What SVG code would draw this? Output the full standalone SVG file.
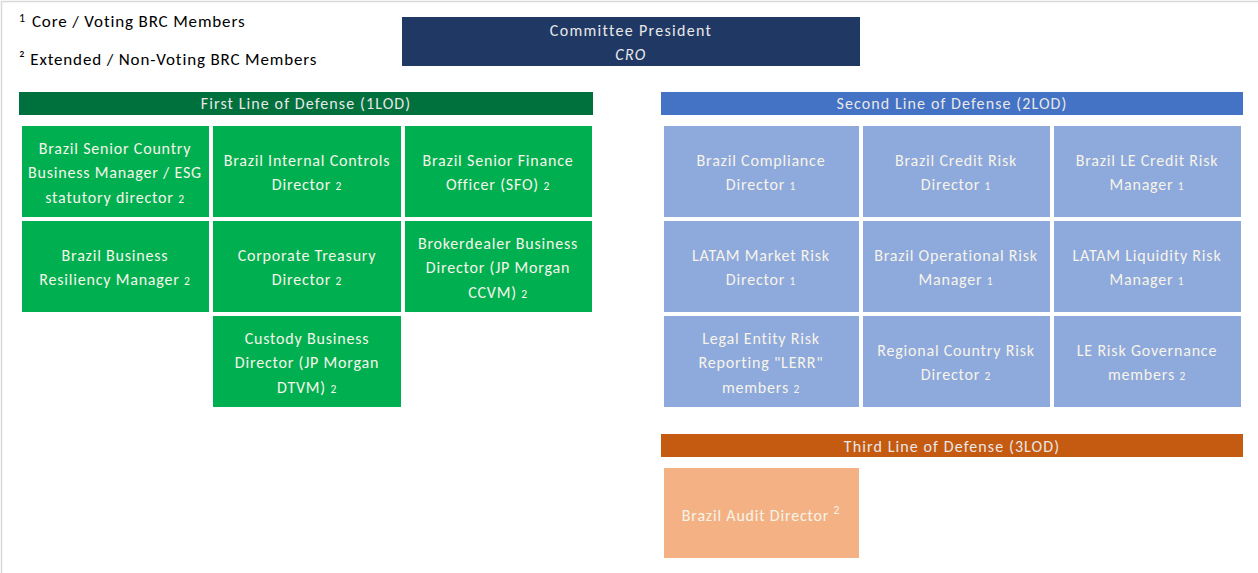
<svg xmlns="http://www.w3.org/2000/svg" width="1258" height="573" viewBox="0 0 1258 573">
<style>
text{font-family:Carlito,Lato,"Liberation Sans",sans-serif}
.lg{font-size:17px;fill:#000;letter-spacing:0.85px}
.hd{font-size:16px;fill:#E8E8E8;text-anchor:middle;letter-spacing:1.1px}
.pr{letter-spacing:1.3px}
.ct{font-size:16px;fill:#F7F4EA;text-anchor:middle;letter-spacing:0.8px}
.sb{font-size:11.5px}
.g{fill:#00B050}
.b{fill:#8EA9DB}
.o{fill:#F4B183}
</style>
<rect width="1258" height="573" fill="#fff"/>
<path d="M1.5 573V1.5H1258" fill="none" stroke="#D9D9D9" stroke-width="1.5"/>
<g id="legend">
<text class="lg" x="19" y="27"><tspan font-size="12" dy="-5">1</tspan><tspan dy="5" dx="6">Core / Voting BRC Members</tspan></text>
<text class="lg" x="19" y="65">² Extended / Non-Voting BRC Members</text>
</g>
<g id="president">
<rect x="402" y="17" width="458" height="49" fill="#203864"/>
<text class="hd pr" x="631" y="36">Committee President</text>
<text class="hd pr" x="631" y="60" font-style="italic">CRO</text>
</g>
<g id="lod1">
<rect x="19" y="92" width="574" height="23" fill="#00703C"/>
<text class="hd" x="306" y="109">First Line of Defense (1LOD)</text>
</g>
<g id="lod2">
<rect x="661" y="92" width="582" height="23" fill="#4472C4"/>
<text class="hd" x="952" y="109">Second Line of Defense (2LOD)</text>
</g>
<g id="lod3">
<rect x="661" y="434" width="582" height="23" fill="#C55A11"/>
<text class="hd" x="952" y="452">Third Line of Defense (3LOD)</text>
</g>
<g id="g1"><rect class="g" x="22" y="126" width="187" height="91"/>
<text class="ct" x="115" y="154">Brazil Senior Country</text><text class="ct" x="115" y="178">Business Manager / ESG</text><text class="ct" x="115" y="203">statutory director  <tspan class="sb">2</tspan></text></g>
<g id="g2"><rect class="g" x="213" y="126" width="188" height="91"/>
<text class="ct" x="307" y="166">Brazil Internal Controls</text><text class="ct" x="307" y="190">Director <tspan class="sb">2</tspan></text></g>
<g id="g3"><rect class="g" x="405" y="126" width="187" height="91"/>
<text class="ct" x="498" y="166">Brazil Senior Finance</text><text class="ct" x="498" y="190">Officer (SFO) <tspan class="sb">2</tspan></text></g>
<g id="g4"><rect class="g" x="22" y="221" width="187" height="91"/>
<text class="ct" x="115" y="261">Brazil Business</text><text class="ct" x="115" y="285">Resiliency Manager <tspan class="sb">2</tspan></text></g>
<g id="g5"><rect class="g" x="213" y="221" width="188" height="91"/>
<text class="ct" x="307" y="261">Corporate Treasury</text><text class="ct" x="307" y="285">Director <tspan class="sb">2</tspan></text></g>
<g id="g6"><rect class="g" x="405" y="221" width="187" height="91"/>
<text class="ct" x="498" y="249">Brokerdealer Business</text><text class="ct" x="498" y="273">Director (JP Morgan</text><text class="ct" x="498" y="298">CCVM) <tspan class="sb">2</tspan></text></g>
<g id="g7"><rect class="g" x="213" y="316" width="188" height="91"/>
<text class="ct" x="307" y="344">Custody Business</text><text class="ct" x="307" y="368">Director (JP Morgan</text><text class="ct" x="307" y="393">DTVM) <tspan class="sb">2</tspan></text></g>
<g id="b1"><rect class="b" x="664" y="126" width="195" height="91"/>
<text class="ct" x="761" y="166">Brazil Compliance</text><text class="ct" x="761" y="190">Director <tspan class="sb">1</tspan></text></g>
<g id="b2"><rect class="b" x="863" y="126" width="187" height="91"/>
<text class="ct" x="956" y="166">Brazil Credit Risk</text><text class="ct" x="956" y="190">Director <tspan class="sb">1</tspan></text></g>
<g id="b3"><rect class="b" x="1054" y="126" width="187" height="91"/>
<text class="ct" x="1147" y="166">Brazil LE Credit Risk</text><text class="ct" x="1147" y="190">Manager <tspan class="sb">1</tspan></text></g>
<g id="b4"><rect class="b" x="664" y="221" width="195" height="91"/>
<text class="ct" x="761" y="261">LATAM Market Risk</text><text class="ct" x="761" y="285">Director <tspan class="sb">1</tspan></text></g>
<g id="b5"><rect class="b" x="863" y="221" width="187" height="91"/>
<text class="ct" x="956" y="261">Brazil Operational Risk</text><text class="ct" x="956" y="285">Manager <tspan class="sb">1</tspan></text></g>
<g id="b6"><rect class="b" x="1054" y="221" width="187" height="91"/>
<text class="ct" x="1147" y="261">LATAM Liquidity Risk</text><text class="ct" x="1147" y="285">Manager <tspan class="sb">1</tspan></text></g>
<g id="b7"><rect class="b" x="664" y="316" width="195" height="91"/>
<text class="ct" x="761" y="344">Legal Entity Risk</text><text class="ct" x="761" y="368">Reporting "LERR"</text><text class="ct" x="761" y="393">members <tspan class="sb">2</tspan></text></g>
<g id="b8"><rect class="b" x="863" y="316" width="187" height="91"/>
<text class="ct" x="956" y="356">Regional Country Risk</text><text class="ct" x="956" y="380">Director <tspan class="sb">2</tspan></text></g>
<g id="b9"><rect class="b" x="1054" y="316" width="187" height="91"/>
<text class="ct" x="1147" y="356">LE Risk Governance</text><text class="ct" x="1147" y="380">members <tspan class="sb">2</tspan></text></g>
<g id="audit"><rect class="o" x="664" y="468" width="195" height="90"/>
<text class="ct" x="761" y="521">Brazil Audit Director <tspan class="sb" dy="-7">2</tspan></text></g>
<g id="connectors"/>
</svg>
